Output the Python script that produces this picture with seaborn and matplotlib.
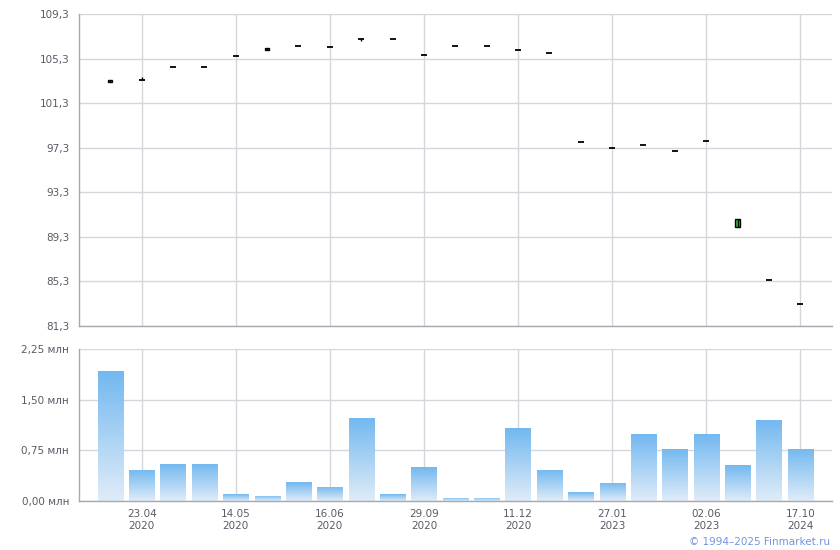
import numpy as np
import pandas as pd
import matplotlib
matplotlib.use("Agg")
import matplotlib.pyplot as plt
import seaborn as sns
from matplotlib.colors import LinearSegmentedColormap

# ---- data ----
idx = list(range(23))
opens = [103.22, 103.42, 104.52, 104.52, 105.50, 106.22, 106.40, 106.30, 107.08, 107.03, 105.59, 106.40,
         106.40, 106.04, 105.77, 97.79, 97.25, 97.52, 96.98, 97.88, 90.16, 85.43, 83.25]
closes = [103.42, 103.42, 104.52, 104.52, 105.50, 106.05, 106.40, 106.30, 107.08, 107.03, 105.59, 106.40,
          106.40, 106.04, 105.77, 97.79, 97.25, 97.52, 96.98, 97.88, 90.88, 85.43, 83.25]
highs = [103.42, 103.62, 104.52, 104.52, 105.50, 106.22, 106.40, 106.30, 107.08, 107.03, 105.59, 106.40,
         106.40, 106.04, 105.77, 97.79, 97.25, 97.52, 96.98, 97.88, 90.88, 85.43, 83.25]
lows = [103.22, 103.42, 104.52, 104.52, 105.50, 106.05, 106.40, 106.30, 106.90, 107.03, 105.59, 106.40,
        106.40, 106.04, 105.77, 97.79, 97.25, 97.52, 96.98, 97.88, 90.16, 85.43, 83.25]
volumes = [1.92, 0.46, 0.55, 0.55, 0.10, 0.075, 0.28, 0.21, 1.23, 0.10, 0.50, 0.045,
           0.045, 1.08, 0.46, 0.13, 0.27, 0.99, 0.77, 0.99, 0.53, 1.20, 0.77]
tick_pos = [1, 4, 7, 10, 13, 16, 19, 22]
tick_labels = ["23.04\n2020", "14.05\n2020", "16.06\n2020", "29.09\n2020", "11.12\n2020",
               "27.01\n2023", "02.06\n2023", "17.10\n2024"]
price_ticks = [81.3, 85.3, 89.3, 93.3, 97.3, 101.3, 105.3, 109.3]
vol_ticks = [0.0, 0.75, 1.50, 2.25]

df = pd.DataFrame({"idx": idx, "open": opens, "close": closes, "high": highs,
                   "low": lows, "volume": volumes})

sns.set_theme(style="white")
plt.rcParams['font.family'] = ['DejaVu Sans']
grid_c = "#d3d7dc"
spine_c = "#a8a8b0"
text_c = "#5a5a66"

fig = plt.figure(figsize=(8.4, 5.5), dpi=100)
ax1 = fig.add_axes([0.094, 0.4073, 0.896, 0.5672])
ax2 = fig.add_axes([0.094, 0.0891, 0.896, 0.2764])

def style_axis(ax):
    for s in ["top", "right"]:
        ax.spines[s].set_visible(False)
    for s in ["left", "bottom"]:
        ax.spines[s].set_color(spine_c)
        ax.spines[s].set_linewidth(1)
    ax.set_axisbelow(True)
    ax.grid(True, color=grid_c, linewidth=1)
    ax.tick_params(axis="y", length=6, width=1, color=spine_c, labelsize=7.5,
                   labelcolor=text_c, pad=1)
    ax.set_xlim(-1, 23)
    ax.set_xlabel("")
    ax.set_ylabel("")

# ---- price panel (candles) ----
flat = df[df["open"] == df["close"]]
up = df[df["close"] > df["open"]]
down = df[df["close"] < df["open"]]
ax1.vlines(df["idx"], df["low"], df["high"], color="black", linewidth=1)
sns.scatterplot(data=flat, x="idx", y="close", marker="_", s=14, linewidth=1.3,
                color="black", ax=ax1, legend=False)
ax1.bar(up["idx"], up["close"] - up["open"], bottom=up["open"], width=0.13,
        color="#22cc22", edgecolor="black", linewidth=1)
ax1.bar(down["idx"], down["open"] - down["close"], bottom=down["close"], width=0.13,
        color="#dd2222", edgecolor="black", linewidth=1)
style_axis(ax1)
ax1.set_ylim(81.3, 109.3)
ax1.set_yticks(price_ticks)
ax1.set_yticklabels([f"{v:.1f}".replace(".", ",") for v in price_ticks])
ax1.set_xticks(tick_pos)
ax1.set_xticklabels([])
ax1.tick_params(axis="x", length=6, width=1, color=spine_c)

# ---- volume panel ----
sns.barplot(data=df, x="idx", y="volume", color="#74b9f0", width=0.8, ax=ax2)
cmap = LinearSegmentedColormap.from_list("vol", ["#e0ecf8", "#72b8f0"])
grad = np.linspace(0, 1, 256).reshape(-1, 1)
for p in list(ax2.patches):
    x0, y0 = p.get_x(), p.get_y()
    w, h = p.get_width(), p.get_height()
    p.set_facecolor("none")
    p.set_edgecolor("none")
    im = ax2.imshow(grad, cmap=cmap, origin="lower", aspect="auto",
                    extent=[x0, x0 + w, y0, y0 + h], zorder=2)
    im.set_clip_path(p)
style_axis(ax2)
ax2.set_xlim(-1, 23)
ax2.set_ylim(0, 2.25)
ax2.set_yticks(vol_ticks)
ax2.set_yticklabels([f"{v:.2f}".replace(".", ",") + " млн" for v in vol_ticks])
ax2.set_xticks(tick_pos)
ax2.set_xticklabels(tick_labels, fontsize=7.5, color=text_c, linespacing=1.25)
ax2.tick_params(axis="x", length=0, pad=6)

fig.text(0.988, 0.0145, "© 1994–2025 Finmarket.ru", ha="right", va="center",
         color="#7494dc", fontsize=7.5)

fig.savefig("out.png", dpi=100)
